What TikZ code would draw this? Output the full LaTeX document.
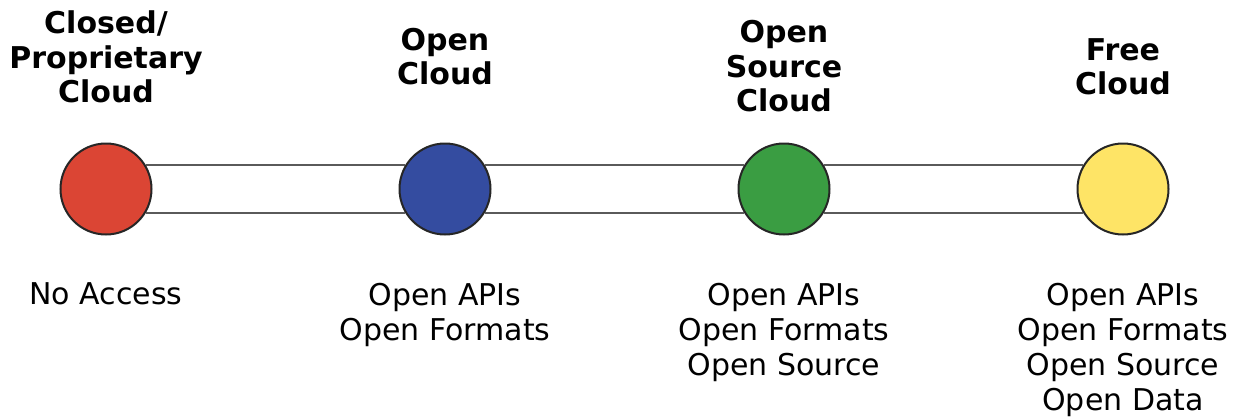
\documentclass[tikz,border=0pt]{standalone}
\usepackage{fontspec}
\setmainfont{DejaVu Sans}
\usepackage{xcolor}
\usetikzlibrary{positioning}

\definecolor{closedred}{RGB}{219,69,52}
\definecolor{openblue}{RGB}{52,76,160}
\definecolor{sourcegreen}{RGB}{58,157,66}
\definecolor{freeyellow}{RGB}{254,228,102}
\definecolor{railgray}{RGB}{90,90,90}

\begin{document}
\begin{tikzpicture}[x=0.5pt,y=-0.5pt,node distance=169.5pt]
\tikzstyle{stage}=[circle, draw=black!85, line width=1pt, minimum size=45.5pt, inner sep=0pt]
\tikzstyle{title}=[inner sep=0pt, align=center, font=\bfseries\fontsize{15pt}{17.25pt}\selectfont]
\tikzstyle{feature}=[inner sep=0pt, align=center, font=\fontsize{15pt}{17.5pt}\selectfont]
\tikzstyle{rail}=[draw=railgray, line width=1.3pt]

\useasboundingbox (0,0) rectangle (1237,418);

% the four stages
\node[stage, fill=closedred] (closed) at (106,189) {};
\node[stage, fill=openblue] (open) [right of = closed] {};
\node[stage, fill=sourcegreen] (source) [right of = open] {};
\node[stage, fill=freeyellow] (free) [right of = source] {};

% rails between the stages
\draw[rail] (closed.31) -- (open.149) (closed.-31) -- (open.-149);
\draw[rail] (open.31) -- (source.149) (open.-31) -- (source.-149);
\draw[rail] (source.31) -- (free.149) (source.-31) -- (free.-149);

% headings
\node[title] (closedtitle) [above=19.5pt of closed] {Closed/\\Proprietary\\Cloud};
\node[title] (opentitle) [above=28.5pt of open] {Open\\Cloud};
\node[title] (sourcetitle) [above=15pt of source] {Open\\Source\\Cloud};
\node[title] (freetitle) [above=23.5pt of free] {Free\\Cloud};

% what each stage gives
\node[feature] (closedlist) [below=23.5pt of closed] {No Access};
\node[feature] (openlist) [below=23.5pt of open] {Open APIs\\Open Formats};
\node[feature] (sourcelist) [below=23.5pt of source] {Open APIs\\Open Formats\\Open Source};
\node[feature] (freelist) [below=23.5pt of free] {Open APIs\\Open Formats\\Open Source\\Open Data};
\end{tikzpicture}
\end{document}
